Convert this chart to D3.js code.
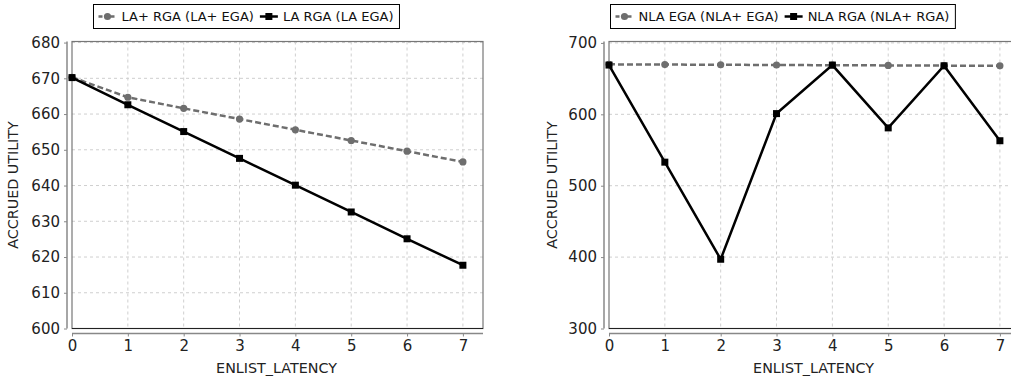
<!DOCTYPE html>
<html>
<head>
<meta charset="utf-8">
<script src="https://cdn.jsdelivr.net/npm/d3@7"></script>
<style>
  body { margin: 0; background: #fff; }
  text { font-family: "DejaVu Sans", sans-serif; }
</style>
</head>
<body>
<div id="chart"></div>
<script>
// data
const latency = [0, 1, 2, 3, 4, 5, 6, 7];

const laPlusRga = [670.3, 664.7, 661.6, 658.6, 655.6, 652.6, 649.6, 646.6];
const laRga     = [670.2, 662.6, 655.1, 647.6, 640.1, 632.6, 625.1, 617.7];

const nlaEga = [670, 669.7, 669.4, 669.1, 668.8, 668.5, 668.2, 667.9];
const nlaRga = [669, 533, 397, 601, 669, 581, 668, 563];

const leftYTicks  = [600, 610, 620, 630, 640, 650, 660, 670, 680];
const rightYTicks = [300, 400, 500, 600, 700];

const leftLegend  = ["LA+ RGA (LA+ EGA)", "LA RGA (LA EGA)"];
const rightLegend = ["NLA EGA (NLA+ EGA)", "NLA RGA (NLA+ RGA)"];

const svg_width = 1011, svg_height = 382;
const svg = d3.select("#chart").append("svg")
    .attr("width", svg_width)
    .attr("height", svg_height);

const grey = "#6e6e6e";

function drawPanel(opt) {
    const g = svg.append("g");
    const x = d3.scaleLinear().domain([0, 7.36]).range([opt.left, opt.left + 411]);
    const y = d3.scaleLinear().domain(opt.yDomain).range([328.5, 41.5]);
    const top = 41.5, bottom = 328.5, left = opt.left, right = opt.left + 411;

    // grid
    g.selectAll(".gx").data(latency.slice(1)).enter().append("line")
        .attr("x1", d => x(d)).attr("x2", d => x(d))
        .attr("y1", top).attr("y2", bottom)
        .attr("stroke", "#cfcfcf").attr("stroke-dasharray", "3,3");
    g.selectAll(".gy").data(opt.yTicks).enter().append("line")
        .attr("x1", left).attr("x2", right)
        .attr("y1", d => y(d)).attr("y2", d => y(d))
        .attr("stroke", "#cfcfcf").attr("stroke-dasharray", "3,3");

    // plot outline
    g.append("rect")
        .attr("x", left).attr("y", top)
        .attr("width", right - left).attr("height", bottom - top)
        .attr("fill", "none").attr("stroke", "#777").attr("stroke-width", 1.2);
    g.append("line")
        .attr("x1", left).attr("x2", right).attr("y1", bottom).attr("y2", bottom)
        .attr("stroke", "#222").attr("stroke-width", 1.2);

    // axes (offset from the plot)
    const yAxis = g.append("g")
        .attr("transform", `translate(${left - 5},0)`)
        .call(d3.axisLeft(y).tickValues(opt.yTicks).tickSize(3).tickPadding(4));
    yAxis.select(".domain").attr("d", `M0,${top}V${bottom}`).attr("stroke", "#888").attr("stroke-width", 1.5);
    const xAxis = g.append("g")
        .attr("transform", `translate(0,${bottom + 5})`)
        .call(d3.axisBottom(x).tickValues(latency).tickSize(3).tickPadding(4));
    xAxis.select(".domain").attr("d", `M${left},0H${right}`).attr("stroke", "#888").attr("stroke-width", 1.5);
    g.selectAll(".tick line").attr("stroke", "#888");
    g.selectAll(".tick text").attr("font-size", 15).attr("fill", "#222")
        .attr("font-family", "DejaVu Sans");

    // axis titles
    g.append("text")
        .attr("x", (left + left + 411) / 2 - 1).attr("y", 373)
        .attr("text-anchor", "middle").attr("font-size", 14.3).attr("fill", "#222")
        .text("ENLIST_LATENCY");
    g.append("text")
        .attr("transform", `translate(${opt.titleX},185) rotate(-90)`)
        .attr("text-anchor", "middle").attr("font-size", 14.3).attr("fill", "#222")
        .text("ACCRUED UTILITY");

    const line = d3.line().x((d, i) => x(latency[i])).y(d => y(d));

    // grey dashed series with circles
    g.append("path").datum(opt.greySeries)
        .attr("d", line).attr("fill", "none")
        .attr("stroke", grey).attr("stroke-width", 2.5).attr("stroke-dasharray", "6,3");
    g.selectAll(".gc").data(opt.greySeries).enter().append("circle")
        .attr("cx", (d, i) => x(latency[i])).attr("cy", d => y(d))
        .attr("r", 3.6).attr("fill", grey);

    // black series with squares
    g.append("path").datum(opt.blackSeries)
        .attr("d", line).attr("fill", "none")
        .attr("stroke", "#000").attr("stroke-width", 2.5);
    g.selectAll(".bs").data(opt.blackSeries).enter().append("rect")
        .attr("x", (d, i) => x(latency[i]) - 3.5).attr("y", d => y(d) - 3.5)
        .attr("width", 7).attr("height", 7).attr("fill", "#000");

    // legend
    const lg = g.append("g");
    const box = lg.append("rect")
        .attr("y", 4.5).attr("height", 24)
        .attr("fill", "#fff").attr("stroke", "#000").attr("stroke-width", 1);
    let cx = opt.legendX + 5;
    opt.legend.forEach((label, i) => {
        const c = i === 0 ? grey : "#000";
        lg.append("line")
            .attr("x1", cx).attr("x2", cx + 18).attr("y1", 16.5).attr("y2", 16.5)
            .attr("stroke", c).attr("stroke-width", 2.5)
            .attr("stroke-dasharray", i === 0 ? "4,2" : null);
        if (i === 0) {
            lg.append("circle").attr("cx", cx + 9).attr("cy", 16.5).attr("r", 3.6).attr("fill", c);
        } else {
            lg.append("rect").attr("x", cx + 5.5).attr("y", 13).attr("width", 7).attr("height", 7).attr("fill", c);
        }
        const t = lg.append("text")
            .attr("x", cx + 23).attr("y", 21)
            .attr("font-size", 13).attr("fill", "#111")
            .text(label);
        cx += 23 + t.node().getComputedTextLength() + 6;
    });
    box.attr("x", opt.legendX).attr("width", cx - opt.legendX);
}

drawPanel({
    left: 72, yDomain: [600, 680.3], yTicks: leftYTicks,
    greySeries: laPlusRga, blackSeries: laRga,
    legend: leftLegend, legendX: 93.5, titleX: 18
});
drawPanel({
    left: 609, yDomain: [300, 702], yTicks: rightYTicks,
    greySeries: nlaEga, blackSeries: nlaRga,
    legend: rightLegend, legendX: 610.5, titleX: 557
});
</script>
</body>
</html>
